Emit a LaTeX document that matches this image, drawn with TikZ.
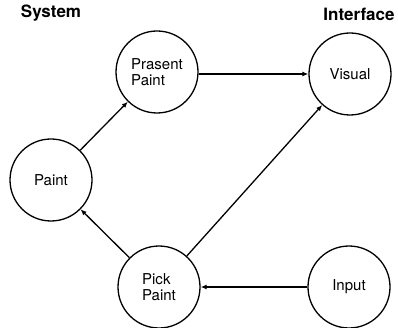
\documentclass[tikz,border=0pt]{standalone}
\usepackage{fontspec}
\setmainfont{TeX Gyre Heros}
\usetikzlibrary{arrows.meta}
\begin{document}
\begin{tikzpicture}[x=1pt,y=-1pt,
  proc/.style={draw,circle,line width=1.3pt,minimum size=82pt,inner sep=0pt,
    font=\fontsize{15}{15.5}\selectfont,align=left},
  title/.style={font=\bfseries\fontsize{17}{18}\selectfont,inner sep=0pt},
  flow/.style={line width=1.3pt,-{Latex[length=6pt,width=5pt]}}]
\useasboundingbox (0,0) rectangle (398,328);
\node[title] (sys) at (51,13) {System};
\node[title] (int) at (359,14) {Interface};
\node[proc] (pp) at (157,72) {Prasent\\Paint};
\node[proc] (vis) at (350,74) {Visual};
\node[proc] (paint) at (51,180) {Paint};
\node[proc] (pick) at (159,287) {Pick\\Paint};
\node[proc] (inp) at (349,287) {Input};
\draw[flow] (paint) -- (pp);
\draw[flow] (pp.east |- vis.west) -- (vis.west);
\draw[flow] (pick) -- (paint);
\draw[flow] (pick) -- (vis);
\draw[flow] (inp.west) -- (pick.east |- inp.west);
\end{tikzpicture}
\end{document}
